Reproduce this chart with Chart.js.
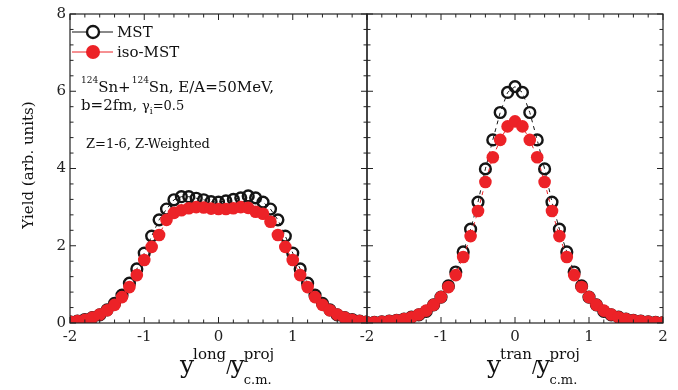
<!DOCTYPE html>
<html>
<head>
<meta charset="utf-8">
<script src="https://cdn.jsdelivr.net/npm/chart.js@4.4.1/dist/chart.umd.min.js"></script>
<style>
html,body{margin:0;padding:0;background:#fff;}
#wrap{position:relative;width:678px;height:390px;}
#wrap canvas{position:absolute;left:0;top:0;}
</style>
</head>
<body>
<div id="wrap">
<canvas id="cL" width="678" height="390"></canvas>
<canvas id="cR" width="678" height="390"></canvas>
</div>
<script>
// ---- data ----
const xValues = [-2.0,-1.9,-1.8,-1.7,-1.6,-1.5,-1.4,-1.3,-1.2,-1.1,-1.0,-0.9,-0.8,-0.7,-0.6,-0.5,-0.4,-0.3,-0.2,-0.1,0.0,
                 0.1,0.2,0.3,0.4,0.5,0.6,0.7,0.8,0.9,1.0,1.1,1.2,1.3,1.4,1.5,1.6,1.7,1.8,1.9,2.0];
const longMST = [0.03,0.05,0.09,0.14,0.21,0.34,0.51,0.72,1.03,1.40,1.81,2.25,2.67,2.95,3.19,3.27,3.27,3.23,3.19,3.14,3.13,
                 3.16,3.20,3.24,3.29,3.24,3.13,2.95,2.67,2.25,1.81,1.40,1.03,0.72,0.51,0.34,0.21,0.14,0.09,0.05,0.03];
const longIso = [0.03,0.05,0.08,0.14,0.22,0.33,0.47,0.67,0.93,1.24,1.63,1.97,2.28,2.67,2.85,2.92,2.97,3.00,2.99,2.96,2.95,
                 2.95,2.97,3.00,2.98,2.88,2.83,2.62,2.28,1.97,1.63,1.24,0.93,0.67,0.47,0.33,0.22,0.14,0.08,0.05,0.03];
const tranMST = [0.01,0.02,0.03,0.05,0.07,0.10,0.15,0.21,0.30,0.47,0.67,0.96,1.32,1.84,2.43,3.13,3.99,4.74,5.45,5.97,6.12,
                 5.97,5.45,4.74,3.99,3.13,2.43,1.84,1.32,0.96,0.67,0.47,0.30,0.21,0.15,0.10,0.07,0.05,0.03,0.02,0.01];
const tranIso = [0.01,0.02,0.03,0.05,0.07,0.10,0.15,0.22,0.32,0.47,0.67,0.93,1.24,1.71,2.25,2.90,3.65,4.29,4.74,5.09,5.22,
                 5.09,4.74,4.29,3.65,2.90,2.25,1.71,1.24,0.93,0.67,0.47,0.32,0.22,0.15,0.10,0.07,0.05,0.03,0.02,0.01];
const seriesNames = ["MST", "iso-MST"];
const xTicks = [-2,-1,0,1,2];
const yTicks = [0,2,4,6,8];

// ---- style ----
const RED = '#ec2227';
const BLK = '#151515';
const SERIF = '"DejaVu Serif", "Liberation Serif", serif';

function pts(ys){ return xValues.map((x,i)=>({x:x, y:ys[i]})); }

function makeDatasets(mst, iso){
  return [
    {label: seriesNames[0], data: pts(mst), order: 1,
     borderColor: BLK, borderWidth: 1, borderDash:[4,4],
     pointRadius: 5.4, pointBorderWidth: 2.4, pointBorderColor: BLK,
     pointBackgroundColor: 'rgba(0,0,0,0)', pointHoverRadius: 5.4},
    {label: seriesNames[1], data: pts(iso), order: 0,
     borderColor: RED, borderWidth: 1, borderDash:[4,4],
     pointRadius: 6.3, pointBorderWidth: 0, pointBorderColor: RED,
     pointBackgroundColor: RED, pointHoverRadius: 6.3}
  ];
}

function frame(ctx, ca, xs, ys){
  ctx.save();
  ctx.strokeStyle = '#222';
  ctx.lineWidth = 1.2;
  ctx.strokeRect(ca.left, ca.top, ca.right-ca.left, ca.bottom-ca.top);
  ctx.lineWidth = 1;
  ctx.beginPath();
  for (let k = -10; k <= 10; k++){
    const v = k/5;
    const px = xs.getPixelForValue(v);
    const L = (k % 5 === 0) ? 6 : 3.5;
    ctx.moveTo(px, ca.bottom); ctx.lineTo(px, ca.bottom - L);
    ctx.moveTo(px, ca.top); ctx.lineTo(px, ca.top + L);
  }
  for (let k = 0; k <= 20; k++){
    const v = k*0.4;
    const py = ys.getPixelForValue(v);
    const L = (k % 5 === 0) ? 6 : 3.5;
    ctx.moveTo(ca.left, py); ctx.lineTo(ca.left + L, py);
    ctx.moveTo(ca.right, py); ctx.lineTo(ca.right - L, py);
  }
  ctx.stroke();
  ctx.restore();
}

function rich(ctx, x, y, segs){
  let cx = x;
  for (const g of segs){
    ctx.font = (g.s) + 'px ' + SERIF;
    if (g.stack){
      ctx.fillText(g.t, cx, y + g.dy);
      const w1 = ctx.measureText(g.t).width;
      ctx.font = (g.stack.s) + 'px ' + SERIF;
      ctx.fillText(g.stack.t, cx, y + g.stack.dy);
      const w2 = ctx.measureText(g.stack.t).width;
      cx += Math.max(w1, w2);
    } else {
      ctx.fillText(g.t, cx, y + (g.dy||0));
      cx += ctx.measureText(g.t).width + (g.gap||0);
    }
  }
  return cx;
}

function xTitle(ctx, x, y, sup){
  ctx.save();
  ctx.fillStyle = '#111';
  ctx.textBaseline = 'alphabetic';
  ctx.textAlign = 'left';
  rich(ctx, x, y, [
    {t:'y', s:25, dy:0, gap:-1},
    {t:sup, s:15, dy:-14, gap:0},
    {t:'/', s:16, dy:-1, gap:-1},
    {t:'y', s:25, dy:0, gap:-1},
    {t:'proj', s:15, dy:-14, stack:{t:'c.m.', s:13, dy:11}}
  ]);
  ctx.restore();
}

const leftPlugin = {
  id: 'leftDecor',
  afterDatasetsDraw(chart){
    frame(chart.ctx, chart.chartArea, chart.scales.x, chart.scales.y);
  },
  afterDraw(chart){
    const ctx = chart.ctx;
    ctx.save();
    ctx.strokeStyle = BLK; ctx.lineWidth = 1.2;
    ctx.beginPath(); ctx.moveTo(72, 32); ctx.lineTo(113, 32); ctx.stroke();
    ctx.fillStyle = '#fff'; ctx.lineWidth = 2.4;
    ctx.beginPath(); ctx.arc(93, 32, 6, 0, Math.PI*2); ctx.fill(); ctx.stroke();
    ctx.strokeStyle = RED; ctx.lineWidth = 1;
    ctx.beginPath(); ctx.moveTo(72, 52); ctx.lineTo(113, 52); ctx.stroke();
    ctx.fillStyle = RED;
    ctx.beginPath(); ctx.arc(93, 52, 7, 0, Math.PI*2); ctx.fill();

    ctx.fillStyle = '#111';
    ctx.textBaseline = 'alphabetic';
    ctx.font = '15px ' + SERIF;
    ctx.fillText(seriesNames[0], 117, 37);
    ctx.fillText(seriesNames[1], 117, 57);

    rich(ctx, 81, 92, [
      {t:'124', s:9, dy:-9},
      {t:'Sn+', s:15, dy:0, gap:1},
      {t:'124', s:9, dy:-9},
      {t:'Sn, E/A=50MeV,', s:15, dy:0}
    ]);
    rich(ctx, 81, 110, [
      {t:'b=2fm, ', s:15, dy:0},
      {t:'γ', s:13, dy:0},
      {t:'i', s:9, dy:4},
      {t:'=0.5', s:13, dy:0}
    ]);
    ctx.font = '13px ' + SERIF;
    ctx.fillText('Z=1-6, Z-Weighted', 86, 148);

    ctx.save();
    ctx.translate(33, 165);
    ctx.rotate(-Math.PI/2);
    ctx.textAlign = 'center';
    ctx.font = '15px ' + SERIF;
    ctx.fillText('Yield (arb. units)', 0, 0);
    ctx.restore();
    ctx.restore();

    xTitle(ctx, 180, 373, 'long');
  }
};

const rightPlugin = {
  id: 'rightDecor',
  afterDatasetsDraw(chart){
    frame(chart.ctx, chart.chartArea, chart.scales.x, chart.scales.y);
  },
  afterDraw(chart){
    xTitle(chart.ctx, 487, 373, 'tran');
  }
};

function opts(padding, showY, hideLastX){
  return {
    responsive: false,
    animation: false,
    events: [],
    layout: {padding: padding},
    plugins: {legend:{display:false}, tooltip:{enabled:false}},
    scales: {
      x: {
        type: 'linear', min: -2, max: 2,
        afterBuildTicks: s => { s.ticks = xTicks.map(v => ({value: v})); },
        ticks: {
          color: '#222', padding: 5, maxRotation: 0, autoSkip: false,
          font: {family: SERIF, size: 15},
          callback: v => (hideLastX && v === 2) ? '' : String(v)
        },
        grid: {display: false, drawTicks: false},
        border: {display: false},
        afterFit: s => { s.height = 67; }
      },
      y: {
        display: showY,
        min: 0, max: 8,
        afterBuildTicks: s => { s.ticks = yTicks.map(v => ({value: v})); },
        ticks: {color: '#222', padding: 4, font: {family: SERIF, size: 15}},
        grid: {display: false, drawTicks: false},
        border: {display: false},
        afterFit: s => { s.width = showY ? 70 : 0; }
      }
    }
  };
}

new Chart(document.getElementById('cL'), {
  type: 'line',
  data: {datasets: makeDatasets(longMST, longIso)},
  options: opts({left:0, top:14, right:311, bottom:0}, true, true),
  plugins: [leftPlugin]
});
new Chart(document.getElementById('cR'), {
  type: 'line',
  data: {datasets: makeDatasets(tranMST, tranIso)},
  options: opts({left:367, top:14, right:15, bottom:0}, false, false),
  plugins: [rightPlugin]
});
</script>
</body>
</html>
